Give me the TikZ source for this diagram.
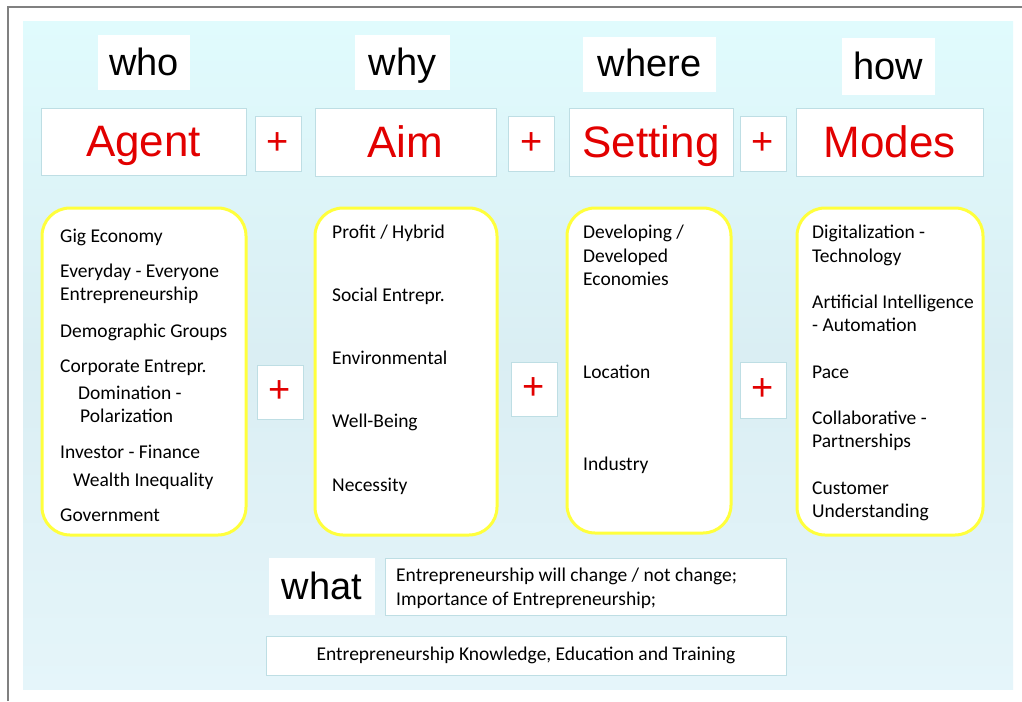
\documentclass[tikz,border=0pt]{standalone}
\usepackage{fontspec}
\setmainfont{Carlito}
\newfontfamily\arialfont{Liberation Sans}
\definecolor{panelTop}{RGB}{224,251,253}
\definecolor{panelMid}{RGB}{218,238,243}
\definecolor{panelBot}{RGB}{229,245,250}
\definecolor{boxLine}{RGB}{190,222,228}
\definecolor{hiRed}{RGB}{226,0,0}
\definecolor{hiYellow}{RGB}{255,255,60}
\begin{document}
\begin{tikzpicture}
        [x=1pt,y=-1pt,
        question/.style={fill=white,inner sep=0pt,text height=27pt,text depth=2pt,font=\arialfont\fontsize{38}{40}\selectfont},
        title/.style={fill=white,draw=boxLine,inner sep=0pt,text height=31.5pt,text depth=1pt,text=hiRed,font=\arialfont\fontsize{44}{46}\selectfont},
        plus/.style={fill=white,draw=boxLine,inner sep=0pt,minimum width=46pt,text=hiRed,font=\arialfont\fontsize{38}{40}\selectfont},
        listbox/.style={fill=white,draw=hiYellow,line width=3pt,rounded corners=28pt,inner sep=0pt},
        item/.style={anchor=base west,inner sep=0pt,font=\fontsize{19.5}{23}\selectfont},
        note/.style={fill=white,draw=boxLine,inner sep=0pt,font=\fontsize{19.5}{24}\selectfont}]
        \useasboundingbox (0,0) rectangle (1022,701);
        \fill[white] (0,0) rectangle (1022,701);
        \draw[gray,line width=1.5pt] (8,701) -- (8,7) -- (1022,7);
        \shade[top color=panelTop,bottom color=panelBot,middle color=panelMid] (23,22) rectangle (1013,689);
        % question words
        \node (who) at (144,62.5) [question,minimum width=92pt,minimum height=55pt] {who};
        \node (why) at (402.5,62.5) [question,minimum width=95pt,minimum height=55pt] {why};
        \node (where) at (649.5,64.5) [question,minimum width=133pt,minimum height=55pt] {where};
        \node (how) at (888.5,66.5) [question,minimum width=93pt,minimum height=57pt] {how};
        % titles
        \node (agent) at (143.5,141.5) [title,minimum width=205pt,minimum height=67pt] {Agent};
        \node (plusA) at (278,143.5) [plus,minimum height=55pt] {+};
        \node (aim) at (405.5,142) [title,minimum width=181pt,minimum height=68pt] {Aim};
        \node (plusB) at (531.5,143.5) [plus,minimum height=55pt] {+};
        \node (setting) at (651,142) [title,minimum width=164pt,minimum height=68pt] {Setting};
        \node (plusC) at (763,143.5) [plus,minimum height=55pt] {+};
        \node (modes) at (889.5,142) [title,minimum width=187pt,minimum height=68pt] {Modes};
        % lists
        \node (agentList) at (144,371.5) [listbox,minimum width=204pt,minimum height=327pt] {};
        \node (aimList) at (406,371.5) [listbox,minimum width=182pt,minimum height=327pt] {};
        \node (settingList) at (649,370.5) [listbox,minimum width=164pt,minimum height=325pt] {};
        \node (modesList) at (890,371.5) [listbox,minimum width=186pt,minimum height=327pt] {};
        \node (plusD) at (280,392) [plus,minimum height=54pt] {+};
        \node (plusE) at (534,389) [plus,minimum height=54pt] {+};
        \node (plusF) at (763,390) [plus,minimum height=56pt] {+};
        \node (gig) at (60,242) [item] {Gig Economy};
        \node (everyday) at (60,277) [item] {Everyday - Everyone};
        \node (everyone) at (60,300) [item] {Entrepreneurship};
        \node (demo) at (60,337) [item] {Demographic Groups};
        \node (corp) at (60,372) [item] {Corporate Entrepr.};
        \node (domin) at (78,399) [item] {Domination -};
        \node (polar) at (80,422) [item] {Polarization};
        \node (invest) at (60,458) [item] {Investor - Finance};
        \node (wealth) at (73,486) [item] {Wealth Inequality};
        \node (govt) at (60,521) [item] {Government};
        \node (profit) at (332,238) [item] {Profit / Hybrid};
        \node (social) at (332,301) [item] {Social Entrepr.};
        \node (environ) at (332,364) [item] {Environmental};
        \node (wellbeing) at (332,427) [item] {Well-Being};
        \node (necessity) at (332,491) [item] {Necessity};
        \node (developing) at (583,238) [item] {Developing /};
        \node (developed) at (583,262) [item] {Developed};
        \node (economies) at (583,285) [item] {Economies};
        \node (location) at (583,378) [item] {Location};
        \node (industry) at (583,470) [item] {Industry};
        \node (digital) at (812,238) [item] {Digitalization -};
        \node (techno) at (812,262) [item] {Technology};
        \node (artif) at (812,308) [item] {Artificial Intelligence};
        \node (autom) at (812,331) [item] {- Automation};
        \node (pace) at (812,378) [item] {Pace};
        \node (collab) at (812,424) [item] {Collaborative -};
        \node (partner) at (812,447) [item] {Partnerships};
        \node (customer) at (812,494) [item] {Customer};
        \node (underst) at (812,517) [item] {Understanding};
        % what
        \node (what) at (322,586.5) [question,minimum width=106pt,minimum height=57pt] {what};
        \node (whatBox) at (585.5,586.5) [note,minimum width=401pt,minimum height=57pt] {};
        \node (change) at (396,581) [item] {Entrepreneurship will change / not change;};
        \node (importance) at (396,605) [item] {Importance of Entrepreneurship;};
        \node (knowledge) at (526,655.5) [note,minimum width=520pt,minimum height=39pt] {Entrepreneurship Knowledge, Education and Training};
     \end{tikzpicture}
\end{document}
